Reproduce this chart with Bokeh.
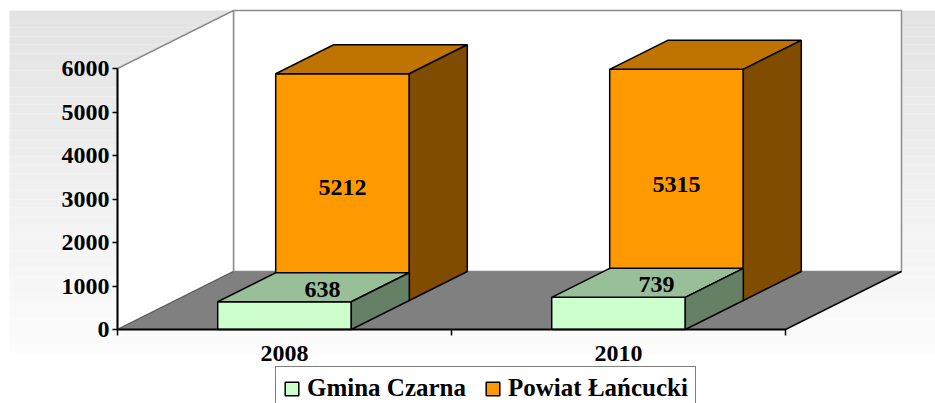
import numpy as np
from bokeh.plotting import figure
from bokeh.models import Range1d, LinearAxis, FixedTicker, Legend, LegendItem
from bokeh.core.properties import value
from bokeh.embed import file_html
from bokeh.resources import INLINE

# ---------------- data ----------------
categories = ["2008", "2010"]
gmina_czarna = [638, 739]
powiat_lancucki = [5212, 5315]
series_names = ["Gmina Czarna", "Powiat Łańcucki"]
y_ticks = [0, 1000, 2000, 3000, 4000, 5000, 6000]
y_max = 6000

# ---------------- layout (canvas pixels) ----------------
W, H = 935, 403
X0_PX = 117          # front-plane left edge
CAT_PX = 334         # one category width
Y0_PX = 74           # zero line distance from canvas bottom
VAL_PX = 261 / 6000  # pixels per unit
DEPTH_DX_PX = 116
DEPTH_DY_PX = 58
BAR_W = 0.4
FONT = "Liberation Serif"

xr = Range1d(-X0_PX / CAT_PX, (W - X0_PX) / CAT_PX)
yr = Range1d(-Y0_PX / VAL_PX, (H - Y0_PX) / VAL_PX)
DDX = DEPTH_DX_PX / CAT_PX
DDY = DEPTH_DY_PX / VAL_PX


def proj(x, v, d):
    return x + d * DDX, v + d * DDY


def poly(pts):
    xs, ys = zip(*[proj(*p) for p in pts])
    return list(xs), list(ys)


def px_x(px):
    return (px - X0_PX) / CAT_PX


def px_y(py_top):
    return (H - py_top - Y0_PX) / VAL_PX


p = figure(width=W, height=H, x_range=xr, y_range=yr, output_backend="svg",
           toolbar_location=None, x_axis_type=None, y_axis_type=None, min_border=0)
p.outline_line_color = None
p.background_fill_color = "white"
p.border_fill_color = "white"

# background gradient of the chart area
n_bands = 40
edges = np.linspace(10, 353, n_bands + 1)
levels = [int(round(227 + 25 * (i + 0.5) / n_bands)) for i in range(n_bands)]
p.quad(left=[px_x(9)] * n_bands, right=[px_x(W)] * n_bands,
       top=[px_y(e) for e in edges[:-1]], bottom=[px_y(e) for e in edges[1:]],
       fill_color=["#%02x%02x%02x" % (l, l, l) for l in levels], line_color=None)

n_cat = len(categories)
# walls
bx, by = poly([(0, 0, 1), (n_cat, 0, 1), (n_cat, y_max, 1), (0, y_max, 1)])
sx, sy = poly([(0, 0, 0), (0, y_max, 0), (0, y_max, 1), (0, 0, 1)])
p.patches(xs=[bx, sx], ys=[by, sy], fill_color="white", line_color="#8c8c8c", line_width=1.5)
fx, fy = poly([(0, 0, 0), (n_cat, 0, 0), (n_cat, 0, 1), (0, 0, 1)])
p.patch(fx, fy, fill_color="#808080", line_color=None)
ex, ey = poly([(n_cat, 0, 0), (n_cat, 0, 1)])
p.line(ex, ey, line_color="black", line_width=1.5)
lx, ly = poly([(0, 0, 0), (0, 0, 1)])
p.line(lx, ly, line_color="#5a5a5a", line_width=1)

# bars
series = [
    (gmina_czarna, 0.0, ("#CCFFCC", "#99BF99", "#668066")),
    (powiat_lancucki, 0.5, ("#FF9900", "#BF7300", "#804C00")),
]
front_renderers = {}
for k in [1, 0]:
    vals, d0, (cf, ct, cs) = series[k]
    d1 = d0 + 0.5
    fxs, fys, oxs, oys, ocol = [], [], [], [], []
    for i, v in enumerate(vals):
        x0, x1 = i + 0.5 - BAR_W / 2, i + 0.5 + BAR_W / 2
        a, b = poly([(x0, 0, d0), (x1, 0, d0), (x1, v, d0), (x0, v, d0)])
        fxs.append(a); fys.append(b)
        a, b = poly([(x0, v, d0), (x1, v, d0), (x1, v, d1), (x0, v, d1)])
        oxs.append(a); oys.append(b); ocol.append(ct)
        a, b = poly([(x1, 0, d0), (x1, 0, d1), (x1, v, d1), (x1, v, d0)])
        oxs.append(a); oys.append(b); ocol.append(cs)
    r = p.patches(xs=fxs, ys=fys, fill_color=cf, line_color="black", line_width=1.5)
    p.patches(xs=oxs, ys=oys, fill_color=ocol, line_color="black", line_width=1.5)
    front_renderers[k] = r

# data labels
lab_font = dict(text_font=value(FONT), text_font_style="bold", text_font_size="24px",
                text_align="center", text_baseline="middle", text_color="black")
px_, py_ = zip(*[proj(i + 0.5, v / 2, 0.5) for i, v in enumerate(powiat_lancucki)])
p.text(x=list(px_), y=list(py_), text=[str(v) for v in powiat_lancucki], **lab_font)
gx_, gy_ = zip(*[proj(i + 0.5, v, 0.25) for i, v in enumerate(gmina_czarna)])
p.text(x=list(gx_), y=list(gy_), text=[str(v) for v in gmina_czarna],
       x_offset=9, y_offset=2, **lab_font)

# axes
yaxis = LinearAxis(fixed_location=0, bounds=(0, y_max), ticker=FixedTicker(ticks=y_ticks))
yaxis.axis_line_color = "black"
yaxis.axis_line_width = 2
yaxis.major_tick_line_width = 1.5
yaxis.major_tick_out = 5
yaxis.major_tick_in = 0
yaxis.minor_tick_line_color = None
yaxis.major_label_standoff = 3
yaxis.major_label_text_font = FONT
yaxis.major_label_text_font_style = "bold"
yaxis.major_label_text_font_size = "24px"
yaxis.major_label_text_color = "black"
p.add_layout(yaxis, "left")

xaxis = LinearAxis(fixed_location=0, bounds=(0, n_cat),
                   ticker=FixedTicker(ticks=list(range(n_cat + 1))))
xaxis.major_label_overrides = {i: "" for i in range(n_cat + 1)}
xaxis.axis_line_color = "black"
xaxis.axis_line_width = 2
xaxis.major_tick_line_width = 1.5
xaxis.major_tick_out = 6
xaxis.major_tick_in = 0
xaxis.minor_tick_line_color = None
p.add_layout(xaxis, "below")

xlab = LinearAxis(fixed_location=0, ticker=FixedTicker(ticks=[i + 0.5 for i in range(n_cat)]))
xlab.major_label_overrides = {i + 0.5: c for i, c in enumerate(categories)}
xlab.axis_line_color = None
xlab.major_tick_line_color = None
xlab.major_tick_out = 6
xlab.minor_tick_line_color = None
xlab.major_label_standoff = 10
xlab.major_label_text_font = FONT
xlab.major_label_text_font_style = "bold"
xlab.major_label_text_font_size = "24px"
xlab.major_label_text_color = "black"
p.add_layout(xlab, "below")

legend = Legend(items=[LegendItem(label=series_names[0], renderers=[front_renderers[0]]),
                       LegendItem(label=series_names[1], renderers=[front_renderers[1]])],
                orientation="horizontal", location=(275, -7), margin=0,
                padding=7, spacing=18, label_standoff=7,
                glyph_width=17, glyph_height=17,
                label_text_font=FONT, label_text_font_style="bold",
                label_text_font_size="25px", label_text_color="black",
                border_line_color="black", border_line_width=1.5,
                background_fill_color="white", background_fill_alpha=1.0)
p.add_layout(legend)

open("out.html", "w").write(file_html(p, INLINE))
